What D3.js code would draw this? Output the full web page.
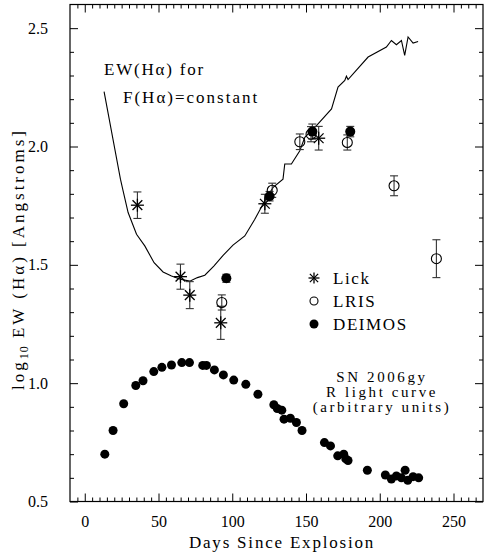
<!DOCTYPE html>
<html>
<head>
<meta charset="utf-8">
<script src="https://cdn.jsdelivr.net/npm/d3@7"></script>
<style>
  body { margin: 0; background: #fff; }
  text { fill: #000; }
</style>
</head>
<body>
<div id="chart"></div>
<script>
var svgW = 485;
var svgH = 552;
var margin = { left: 70, right: 2, top: 4.5, bottom: 50.5 };
var chartW = svgW - margin.left - margin.right;
var chartH = svgH - margin.top - margin.bottom;

// R light curve (arbitrary units)
var lightDays = [13.6, 19.2, 26.4, 34.6, 39.5, 46.8, 52.3, 58.8, 65.8, 71, 80, 82.5, 87.9, 94, 101, 109.2, 117.4,
    128.2, 130.5, 133.6, 135.1, 139.4, 143.5, 147.3, 162.5, 166.6, 171.5, 175.6, 177, 178.5, 191.6,
    203.8, 207.9, 211.3, 214.7, 217.2, 219, 222.6, 226.4];
var lightVals = [0.70, 0.80, 0.913, 0.99, 1.01, 1.049, 1.067, 1.077, 1.087, 1.087, 1.075, 1.075, 1.056, 1.035, 1.013, 0.995, 0.953,
    0.909, 0.893, 0.886, 0.848, 0.852, 0.834, 0.80, 0.749, 0.735, 0.693, 0.70, 0.68, 0.673, 0.632,
    0.612, 0.595, 0.608, 0.60, 0.632, 0.59, 0.605, 0.60];

// EW(Halpha) for F(Halpha)=constant
var lineDays = [13.1, 24.2, 26.0, 29.4, 35.1, 40.7, 47.0, 53.1, 58.8, 64.9, 71.2, 76.4, 81.4, 87.5, 93.8, 100.5,
    108.5, 115.3, 122.0, 127.7, 134.4, 135.6, 140.1, 145.8, 149.2, 157.1, 167.3, 171.7, 176.3, 177.4,
    178.5, 192.1, 204.5, 207.9, 211.3, 214.7, 216.9, 219.2, 222.6, 226.0];
var lineVals = [2.232, 1.862, 1.813, 1.721, 1.629, 1.580, 1.509, 1.470, 1.453, 1.439, 1.431, 1.446, 1.456, 1.495, 1.540, 1.583,
    1.622, 1.693, 1.770, 1.827, 1.862, 1.926, 1.926, 1.982, 2.039, 2.088, 2.159, 2.251, 2.279, 2.297,
    2.283, 2.378, 2.420, 2.448, 2.430, 2.448, 2.385, 2.463, 2.437, 2.444];

// measurements
var lickDays = [35.7, 64.9, 71.2, 92.2, 122.1, 158.6];
var lickVals = [1.752, 1.45, 1.372, 1.255, 1.758, 2.035];
var lickErr = [0.056, 0.053, 0.057, 0.07, 0.04, 0.05];

var lrisDays = [92.9, 127.1, 145.8, 153.4, 178.0, 209.7, 238.4];
var lrisVals = [1.341, 1.815, 2.02, 2.052, 2.017, 1.834, 1.526];
var lrisErr = [0.032, 0.03, 0.033, 0.032, 0.032, 0.042, 0.08];

var deimosDays = [96.0, 125.3, 154.3, 180.0];
var deimosVals = [1.443, 1.79, 2.063, 2.063];
var deimosErr = [0.017, 0.02, 0.032, 0.022];

var xMajor = [0, 50, 100, 150, 200, 250];
var yMajor = [0.5, 1.0, 1.5, 2.0, 2.5];
var yLabels = ["0.5", "1.0", "1.5", "2.0", "2.5"];

var svg = d3.select("#chart")
    .append("svg")
    .attr("width", svgW)
    .attr("height", svgH);
var g = svg.append("g")
    .attr("transform", `translate(${margin.left}, ${margin.top})`);

var xScale = d3.scaleLinear().domain([-10, 270]).range([0, chartW]);
var yScale = d3.scaleLinear().domain([0.5, 2.6]).range([chartH, 0]);

var xMinor = d3.range(-5, 270, 5).filter(d => d % 50 !== 0);
var yMinor = d3.range(6, 26, 1).map(d => d / 10).filter(d => Math.round(d * 10) % 5 !== 0);

var font = "'Liberation Serif', 'Times New Roman', serif";

function styleAxis(sel) {
    sel.select(".domain").remove();
    sel.selectAll("line").attr("stroke", "#000").attr("stroke-width", 1);
    sel.selectAll("text").attr("font-family", font).attr("font-size", 16).attr("fill", "#000");
}

// bottom
g.append("g").attr("transform", `translate(0, ${chartH})`)
    .call(d3.axisBottom(xScale).tickValues(xMajor).tickSize(-8).tickPadding(14).tickFormat(d3.format("d")))
    .call(styleAxis);
g.append("g").attr("transform", `translate(0, ${chartH})`)
    .call(d3.axisBottom(xScale).tickValues(xMinor).tickSize(-4).tickFormat(""))
    .call(styleAxis);
// top
g.append("g")
    .call(d3.axisTop(xScale).tickValues(xMajor).tickSize(-8).tickFormat(""))
    .call(styleAxis);
g.append("g")
    .call(d3.axisTop(xScale).tickValues(xMinor).tickSize(-4).tickFormat(""))
    .call(styleAxis);
// left
g.append("g")
    .call(d3.axisLeft(yScale).tickValues(yMajor).tickSize(-8).tickPadding(22).tickFormat((d, i) => yLabels[i]))
    .call(styleAxis);
g.append("g")
    .call(d3.axisLeft(yScale).tickValues(yMinor).tickSize(-4).tickFormat(""))
    .call(styleAxis);
// right
g.append("g").attr("transform", `translate(${chartW}, 0)`)
    .call(d3.axisRight(yScale).tickValues(yMajor).tickSize(-8).tickFormat(""))
    .call(styleAxis);
g.append("g").attr("transform", `translate(${chartW}, 0)`)
    .call(d3.axisRight(yScale).tickValues(yMinor).tickSize(-4).tickFormat(""))
    .call(styleAxis);

g.append("rect")
    .attr("width", chartW).attr("height", chartH)
    .attr("fill", "none").attr("stroke", "#000").attr("stroke-width", 1.2);

// constant-flux line
var line = d3.line().x(d => xScale(d[0])).y(d => yScale(d[1]));
g.append("path")
    .datum(lineDays.map((d, i) => [d, lineVals[i]]))
    .attr("d", line)
    .attr("fill", "none")
    .attr("stroke", "#000")
    .attr("stroke-width", 1.1);

// light curve
g.selectAll(".lc")
    .data(lightDays)
    .enter()
    .append("circle")
    .attr("class", "lc")
    .attr("cx", d => xScale(d))
    .attr("cy", (d, i) => yScale(lightVals[i]))
    .attr("r", 4.5)
    .attr("fill", "#000");

function errorBars(days, vals, errs) {
    days.forEach((d, i) => {
        var x = xScale(d);
        var y0 = yScale(vals[i] - errs[i]);
        var y1 = yScale(vals[i] + errs[i]);
        var eb = g.append("g").attr("stroke", "#333").attr("stroke-width", 1.1);
        eb.append("line").attr("x1", x).attr("x2", x).attr("y1", y0).attr("y2", y1);
        eb.append("line").attr("x1", x - 4).attr("x2", x + 4).attr("y1", y0).attr("y2", y0);
        eb.append("line").attr("x1", x - 4).attr("x2", x + 4).attr("y1", y1).attr("y2", y1);
    });
}

errorBars(lrisDays, lrisVals, lrisErr);
errorBars(lickDays, lickVals, lickErr);
errorBars(deimosDays, deimosVals, deimosErr);

function asterisk(sel, x, y, s) {
    var a = sel.append("g").attr("stroke", "#000").attr("stroke-width", 1.3);
    a.append("line").attr("x1", x - s).attr("x2", x + s).attr("y1", y).attr("y2", y);
    a.append("line").attr("x1", x).attr("x2", x).attr("y1", y - s).attr("y2", y + s);
    a.append("line").attr("x1", x - s * 0.75).attr("x2", x + s * 0.75).attr("y1", y - s * 0.75).attr("y2", y + s * 0.75);
    a.append("line").attr("x1", x - s * 0.75).attr("x2", x + s * 0.75).attr("y1", y + s * 0.75).attr("y2", y - s * 0.75);
}

g.selectAll(".lris")
    .data(lrisDays)
    .enter()
    .append("circle")
    .attr("class", "lris")
    .attr("cx", d => xScale(d))
    .attr("cy", (d, i) => yScale(lrisVals[i]))
    .attr("r", 5)
    .attr("fill", "none")
    .attr("stroke", "#000")
    .attr("stroke-width", 1.1);

lickDays.forEach((d, i) => asterisk(g, xScale(d), yScale(lickVals[i]), 6.5));

g.selectAll(".deimos")
    .data(deimosDays)
    .enter()
    .append("circle")
    .attr("class", "deimos")
    .attr("cx", d => xScale(d))
    .attr("cy", (d, i) => yScale(deimosVals[i]))
    .attr("r", 5)
    .attr("fill", "#000");

// legend
asterisk(svg, 314, 278, 5.5);
svg.append("circle").attr("cx", 314).attr("cy", 301).attr("r", 4)
    .attr("fill", "none").attr("stroke", "#000").attr("stroke-width", 1.1);
svg.append("circle").attr("cx", 314).attr("cy", 324).attr("r", 4.5).attr("fill", "#000");
[["Lick", 284], ["LRIS", 307], ["DEIMOS", 330]].forEach(t => {
    svg.append("text").attr("x", 333).attr("y", t[1])
        .attr("font-family", font).attr("font-size", 17)
        .attr("letter-spacing", 1.6).text(t[0]);
});

// annotations
svg.append("text").attr("x", 104).attr("y", 75)
    .attr("font-family", font).attr("font-size", 17)
    .attr("letter-spacing", 1.8).text("EW(Hα) for");
svg.append("text").attr("x", 123).attr("y", 103)
    .attr("font-family", font).attr("font-size", 17)
    .attr("letter-spacing", 2).text("F(Hα)=constant");

[["SN 2006gy", 382], ["R light curve", 397], ["(arbitrary units)", 412]].forEach(t => {
    svg.append("text").attr("x", 382).attr("y", t[1])
        .attr("text-anchor", "middle")
        .attr("font-family", font).attr("font-size", 15)
        .attr("letter-spacing", 2.6).text(t[0]);
});

// axis titles
svg.append("text").attr("x", 282).attr("y", 548)
    .attr("text-anchor", "middle")
    .attr("font-family", font).attr("font-size", 17)
    .attr("letter-spacing", 1.8)
    .text("Days Since Explosion");

var yt = svg.append("text")
    .attr("transform", "translate(24, 259) rotate(-90)")
    .attr("text-anchor", "middle")
    .attr("font-family", font).attr("font-size", 17)
    .attr("letter-spacing", 3);
yt.append("tspan").text("log");
yt.append("tspan").attr("font-size", 12).attr("dy", 4).attr("letter-spacing", 1).text("10");
yt.append("tspan").attr("dy", -4).text(" EW (Hα) [Angstroms]");
</script>
</body>
</html>
